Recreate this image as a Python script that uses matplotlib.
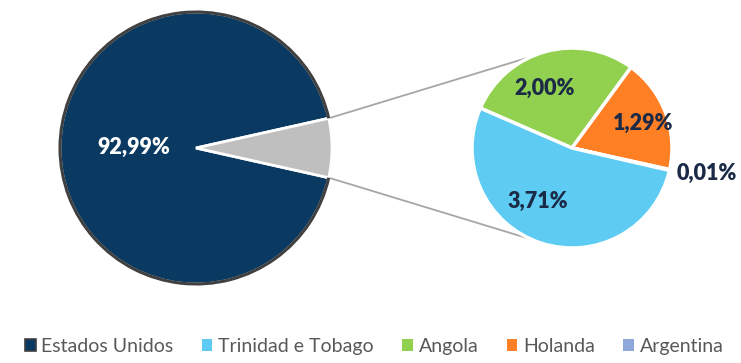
import numpy as np
import matplotlib as mpl
import matplotlib.pyplot as plt
from matplotlib.patches import Arc, Patch

mpl.rc('font', family='Lato')

# shares of imports, legend order
names = ['Estados Unidos', 'Trinidad e Tobago', 'Angola', 'Holanda', 'Argentina']
shares = [92.99, 3.71, 2.00, 1.29, 0.01]
labels = ['92,99%', '3,71%', '2,00%', '1,29%', '0,01%']
colors = ['#0A3A61', '#5DCBF2', '#92D050', '#FF8024', '#8FA8DC']

fig = plt.figure(figsize=(7.41, 3.63), dpi=100)
ax = fig.add_axes([0, 0, 1, 1])

# main pie: Estados Unidos vs the rest (grey)
c1, r1 = (196, 215), 136
rest = sum(shares[1:])
start1 = rest / sum(shares) * 180
w1, _ = ax.pie([shares[0], rest], colors=[colors[0], '#BFBFBF'], startangle=start1,
               center=c1, radius=r1, wedgeprops=dict(edgecolor='white', linewidth=2))
ax.add_patch(Arc(c1, 2 * r1, 2 * r1, theta1=w1[0].theta1, theta2=w1[0].theta2,
                 color='#404040', lw=2.2, zorder=3))
ax.text(c1[0] - 0.46 * r1, c1[1] + 1, labels[0], color='white', fontsize=15.5,
        fontweight='heavy', ha='center', va='center')

# secondary pie, drawn clockwise: Angola, Holanda, Argentina, Trinidad
c2, r2 = (572, 215), 100
order = [2, 3, 4, 1]
w2, _ = ax.pie([shares[i] for i in order], colors=[colors[i] for i in order],
               startangle=156.5, counterclock=False, center=c2, radius=r2,
               wedgeprops=dict(edgecolor='white', linewidth=2.5))
# label placement: (distance in radii, angle shift from wedge middle)
place = {2: (0.65, 9.4), 3: (0.75, -1.2), 4: (1.37, 2.1), 1: (0.63, -14.3)}
for w, i in zip(w2, order):
    d, shift = place[i]
    mid = np.deg2rad((w.theta1 + w.theta2) / 2 + shift)
    ax.text(c2[0] + d * r2 * np.cos(mid), c2[1] + d * r2 * np.sin(mid),
            labels[i], color='#1B2A47', fontsize=15.5, fontweight='heavy',
            ha='center', va='center')

# connector lines
for a1, a2 in [(start1, 114), (-start1, 246)]:
    p = (c1[0] + r1 * np.cos(np.deg2rad(a1)), c1[1] + r1 * np.sin(np.deg2rad(a1)))
    q = (c2[0] + r2 * np.cos(np.deg2rad(a2)), c2[1] + r2 * np.sin(np.deg2rad(a2)))
    ax.plot([p[0], q[0]], [p[1], q[1]], color='#A6A6A6', lw=1.3, zorder=0)

ax.set_xlim(0, 741)
ax.set_ylim(0, 363)
ax.set_aspect('equal')
ax.axis('off')

handles = [Patch(facecolor=colors[0], edgecolor='#404040', linewidth=1.2)]
handles += [Patch(facecolor=c) for c in colors[1:]]
leg = fig.legend(handles, names, loc='lower center', bbox_to_anchor=(0.505, -0.025), ncol=5,
                 frameon=False, fontsize=14, handlelength=0.55, handleheight=0.55,
                 handletextpad=0.3, columnspacing=1.45, labelcolor='#595959')

fig.savefig('out.png', dpi=100)
